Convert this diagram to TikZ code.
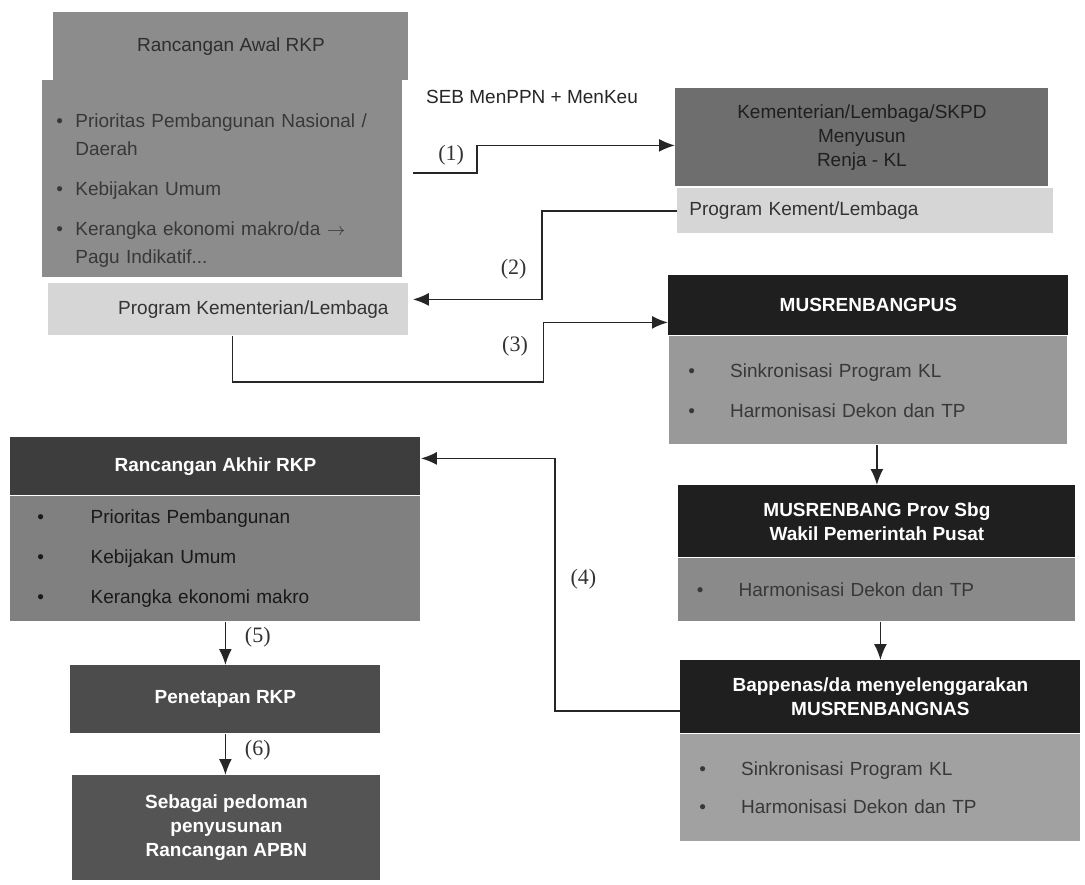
\documentclass[tikz,border=0pt]{standalone}
\usepackage{fontspec}
\setmainfont{Liberation Serif}
\setsansfont{Liberation Sans}
\usetikzlibrary{arrows, arrows.meta, positioning}

\newcommand{\pitem}[2][1em]{\makebox[#1][l]{\textbullet}#2}

\begin{document}
\begin{tikzpicture}[x=0.5pt, y=-0.5pt, >={Latex[length=8pt, width=6.5pt]},
        every node/.style={font=\sffamily\fontsize{9.5}{12}\selectfont},
        gbox/.style={fill=black!45, text=black!82, align=center},
        hdr/.style={fill=black!88, text=white, align=center,
            font=\sffamily\bfseries\fontsize{9.5}{12}\selectfont},
        bbox/.style={fill=black!40, text=black!78, align=left,
            font=\sffamily\fontsize{9.5}{14}\selectfont},
        lbox/.style={fill=black!16, text=black!80},
        lbl/.style={font=\rmfamily\fontsize{11}{13}\selectfont, text=black!80},
        conn/.style={draw=black!85, line width=0.9pt}
    ]
        \useasboundingbox (0,0) rectangle (1085,884);

        % Rancangan awal
        \node [gbox, anchor=north west, minimum width=177.5pt, minimum height=34pt] (awal) at (53,12) {Rancangan Awal RKP};
        \node [bbox, fill=black!45, anchor=north west, minimum width=179pt, minimum height=98.5pt,
            text width=166pt, inner xsep=7pt] (awalbody) at (42,80)
            {\rule{0pt}{19pt}\pitem{Prioritas Pembangunan Nasional /}\\
             \hspace*{1em}Daerah\\[6pt]
             \pitem{Kebijakan Umum}\\[6pt]
             \pitem{Kerangka ekonomi makro/da $\rightarrow$}\\
             \hspace*{1em}Pagu Indikatif...};
        \node [lbox, anchor=north west, minimum width=180pt, minimum height=26pt] (progL) at (48,283) {\hspace*{25pt}Program Kementerian/Lembaga};

        % Kementerian / Lembaga
        \node [gbox, fill=black!57, text=black!88, anchor=north west, minimum width=186.5pt, minimum height=49pt] (kl) at (675,88)
            {Kementerian/Lembaga/SKPD\\Menyusun\\Renja - KL};
        \node [lbox, anchor=north west, minimum width=188pt, minimum height=22.5pt, text width=176pt, align=left] (progR) at (677,188)
            {Program Kement/Lembaga};

        % MUSRENBANG
        \node [hdr, anchor=north west, minimum width=200pt, minimum height=30pt] (pus) at (668,275) {MUSRENBANGPUS};
        \node [bbox, below=0pt of pus, minimum width=199pt, minimum height=54pt, text width=180pt, inner xsep=9pt] (pusbody)
            {\pitem[2.2em]{Sinkronisasi Program KL}\\[6pt]
             \pitem[2.2em]{Harmonisasi Dekon dan TP}};

        \node [hdr, anchor=north west, minimum width=198.5pt, minimum height=36pt] (prov) at (678,485)
            {MUSRENBANG Prov Sbg\\Wakil Pemerintah Pusat};
        \node [bbox, fill=black!46, below=0pt of prov, minimum width=198.5pt, minimum height=31.5pt, text width=180pt, inner xsep=9pt] (provbody)
            {\pitem[2.2em]{Harmonisasi Dekon dan TP}};

        \node [hdr, anchor=north west, minimum width=200pt, minimum height=36.5pt] (bap) at (680,660)
            {Bappenas/da menyelenggarakan\\MUSRENBANGNAS};
        \node [bbox, fill=black!37, below=0pt of bap, minimum width=200pt, minimum height=53.5pt, text width=181pt, inner xsep=9pt] (bapbody)
            {\pitem[2.2em]{Sinkronisasi Program KL}\\[5pt]
             \pitem[2.2em]{Harmonisasi Dekon dan TP}};

        % Rancangan akhir
        \node [hdr, fill=black!76, anchor=north west, minimum width=205pt, minimum height=29pt] (akhir) at (10,437) {Rancangan Akhir RKP};
        \node [bbox, fill=black!50, text=black!90, below=0pt of akhir, minimum width=205pt, minimum height=62.5pt,
            text width=178pt, inner xsep=13pt] (akhirbody)
            {\pitem[2.8em]{Prioritas Pembangunan}\\[6pt]
             \pitem[2.8em]{Kebijakan Umum}\\[6pt]
             \pitem[2.8em]{Kerangka ekonomi makro}};
        \node [hdr, fill=black!70, anchor=north west, minimum width=155pt, minimum height=34pt] (pen) at (70,665) {Penetapan RKP};
        \node [hdr, fill=black!67, anchor=north west, minimum width=154pt, minimum height=52.5pt] (seb) at (72,775)
            {Sebagai pedoman\\penyusunan\\Rancangan APBN};

        \node [text=black!85] (seb-lbl) at (532,97) {SEB MenPPN + MenKeu};

        % Alur
        \draw[conn, ->] ([xshift=5pt, yshift=3pt]awalbody.east) -- node[lbl, above, pos=0.6] {(1)} ++(64,0)
            |- ([yshift=-4pt]kl.west);
        \draw[conn, ->] (progR.west) -- ++(-135,0)
            |- node[lbl, left, pos=0.33, xshift=-4pt] {(2)} ([xshift=2pt, yshift=5pt]progL.east);
        \draw[conn, ->] ([xshift=2pt]progL.south) -- ++(0,46) -- ++(311,0)
            |- node[lbl, left, pos=0.3, xshift=-4pt] {(3)} ([yshift=-8.5pt]pus.west);
        \draw[conn, ->] ([yshift=-7pt]bap.west) -- ++(-125,0)
            |- node[lbl, right, pos=0.26, xshift=4pt] {(4)} ([yshift=4pt]akhir.east);
        \draw[conn, ->] (pusbody.south -| prov.north) -- (prov.north);
        \draw[conn, ->] (provbody.south -| bap.north) -- (bap.north);
        \draw[conn, ->] (pen.north |- akhirbody.south) -- node[lbl, right, pos=0.35, xshift=6pt] {(5)} (pen.north);
        \draw[conn, ->] (pen.south) -- node[lbl, right, pos=0.4, xshift=6pt] {(6)} (pen.south |- seb.north);
    \end{tikzpicture}
\end{document}
